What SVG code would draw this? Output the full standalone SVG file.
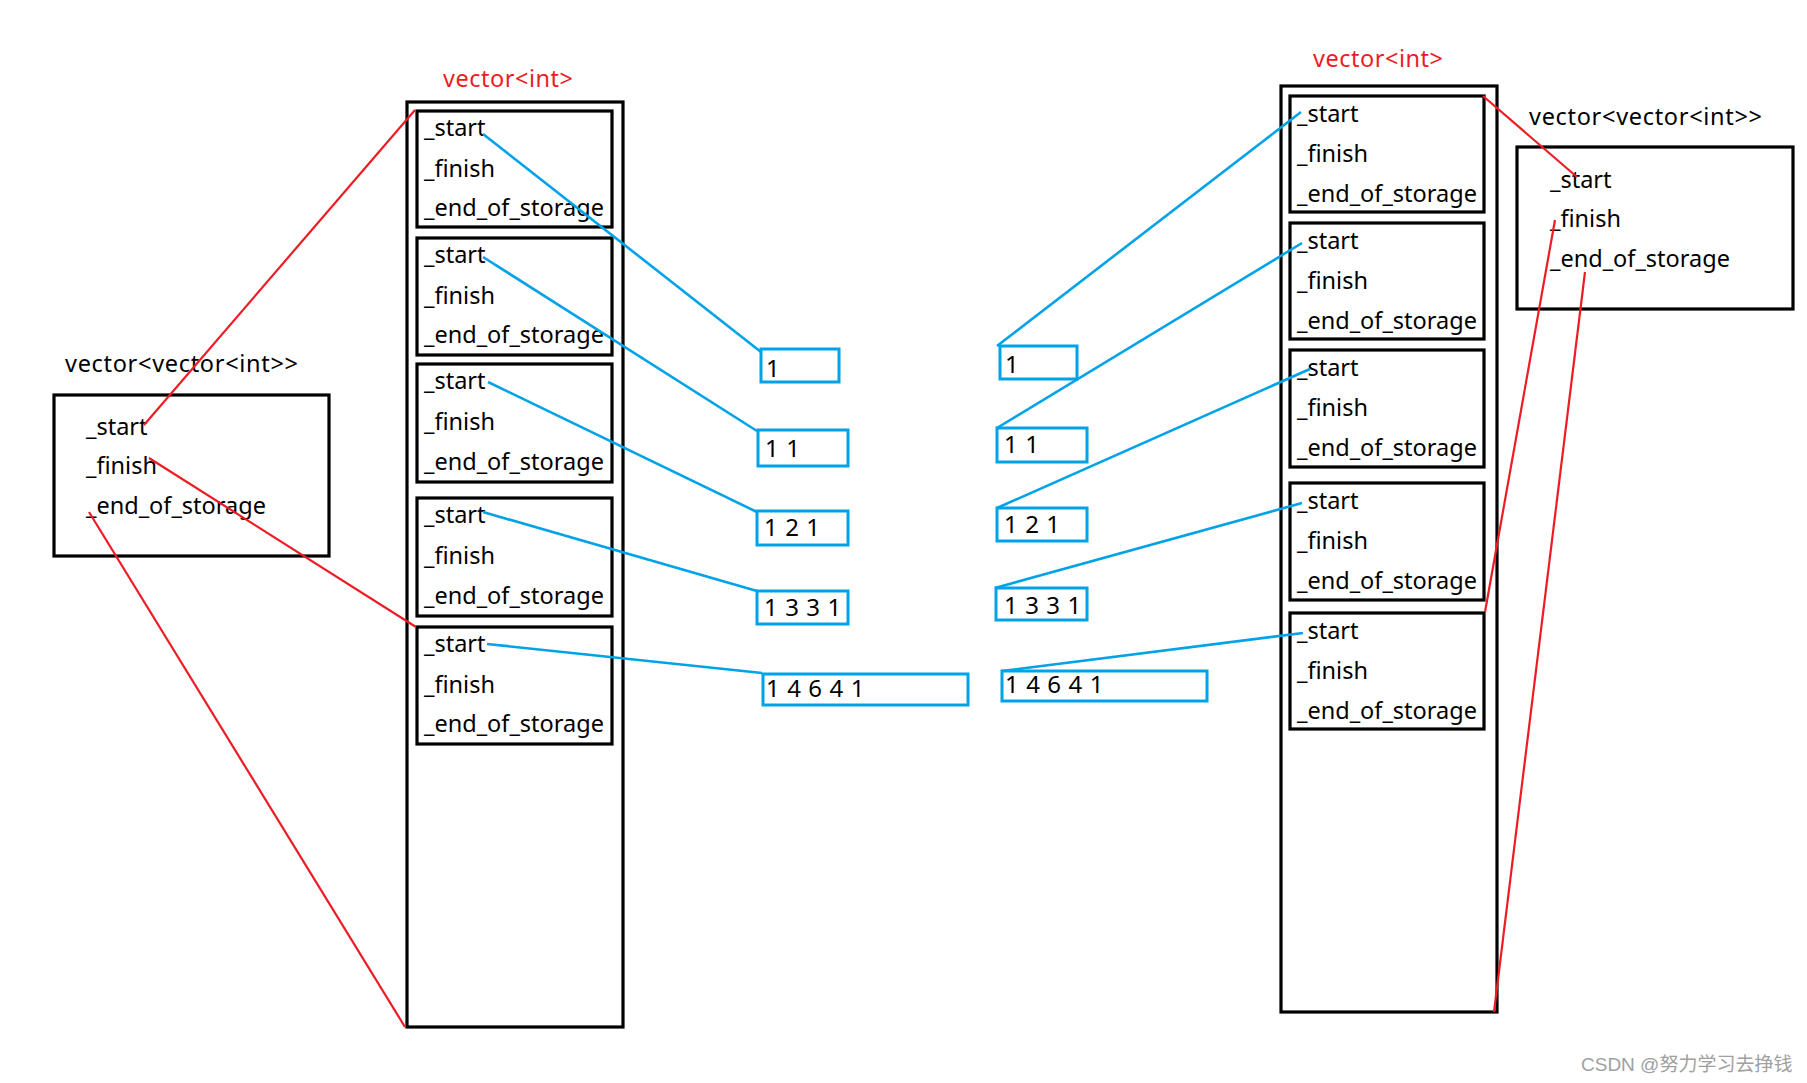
<svg xmlns="http://www.w3.org/2000/svg" width="1807" height="1083" viewBox="0 0 1807 1083">
<style>
.bk{fill:none;stroke:#000;stroke-width:3.2}
.vb{fill:none;stroke:#00A2E8;stroke-width:3}
.t{font-family:"Noto Sans","Noto Sans CJK SC",sans-serif;font-size:23.5px;fill:#000}
.rt{font-family:"Noto Sans","Noto Sans CJK SC",sans-serif;font-size:23.5px;fill:#ED1C24}
.d{font-family:"Noto Sans","Noto Sans CJK SC",sans-serif;font-size:24px;fill:#000;letter-spacing:0.6px}
.bl{stroke:#00A2E8;stroke-width:2.6;fill:none}
.rd{stroke:#ED1C24;stroke-width:2.2;fill:none}
.wm{font-family:"Liberation Sans","Noto Sans CJK SC",sans-serif;font-size:19px;fill:#a0a0a0}
</style>
<rect width="1807" height="1083" fill="#fff"/>

<g id="vv-left">
<text class="t" x="65" y="372" textLength="233" lengthAdjust="spacing">vector&lt;vector&lt;int&gt;&gt;</text>
<rect class="bk" x="54" y="395" width="275" height="161"/>
<text class="t" x="86" y="435">_start</text>
<text class="t" x="86" y="474">_finish</text>
<text class="t" x="86" y="514">_end_of_storage</text>
</g>

<g id="vec-left">
<text class="rt" x="443" y="87" textLength="130" lengthAdjust="spacing">vector&lt;int&gt;</text>
<rect class="bk" x="407" y="102" width="216" height="925"/>
<g id="vl1"><rect class="bk" x="417" y="111" width="195" height="116"/>
<text class="t" x="424" y="136">_start</text><text class="t" x="424" y="177">_finish</text><text class="t" x="424" y="216">_end_of_storage</text></g>
<g id="vl2"><rect class="bk" x="417" y="238" width="195" height="117"/>
<text class="t" x="424" y="263">_start</text><text class="t" x="424" y="304">_finish</text><text class="t" x="424" y="343">_end_of_storage</text></g>
<g id="vl3"><rect class="bk" x="417" y="364" width="195" height="118"/>
<text class="t" x="424" y="389">_start</text><text class="t" x="424" y="430">_finish</text><text class="t" x="424" y="470">_end_of_storage</text></g>
<g id="vl4"><rect class="bk" x="417" y="498" width="195" height="118"/>
<text class="t" x="424" y="523">_start</text><text class="t" x="424" y="564">_finish</text><text class="t" x="424" y="604">_end_of_storage</text></g>
<g id="vl5"><rect class="bk" x="417" y="627" width="195" height="117"/>
<text class="t" x="424" y="652">_start</text><text class="t" x="424" y="693">_finish</text><text class="t" x="424" y="732">_end_of_storage</text></g>
</g>

<g id="vals-left">
<g id="l1"><rect class="vb" x="761" y="349" width="78" height="33"/><text class="d" x="766" y="377">1</text></g>
<g id="l2"><rect class="vb" x="758" y="430" width="90" height="36"/><text class="d" x="765" y="457">1 1</text></g>
<g id="l3"><rect class="vb" x="757" y="511" width="91" height="34"/><text class="d" x="764" y="536">1 2 1</text></g>
<g id="l4"><rect class="vb" x="757" y="591" width="91" height="33"/><text class="d" x="764" y="616">1 3 3 1</text></g>
<g id="l5"><rect class="vb" x="763" y="674" width="205" height="31"/><text class="d" x="766" y="697">1 4 6 4 1</text></g>
</g>

<g id="vals-right">
<g id="r1"><rect class="vb" x="1000" y="346" width="77" height="33"/><text class="d" x="1005" y="373">1</text></g>
<g id="r2"><rect class="vb" x="997" y="428" width="90" height="34"/><text class="d" x="1004" y="453">1 1</text></g>
<g id="r3"><rect class="vb" x="997" y="508" width="90" height="33"/><text class="d" x="1004" y="533">1 2 1</text></g>
<g id="r4"><rect class="vb" x="996" y="588" width="91" height="32"/><text class="d" x="1004" y="614">1 3 3 1</text></g>
<g id="r5"><rect class="vb" x="1002" y="671" width="205" height="30"/><text class="d" x="1005" y="693">1 4 6 4 1</text></g>
</g>

<g id="vec-right">
<text class="rt" x="1313" y="67" textLength="130" lengthAdjust="spacing">vector&lt;int&gt;</text>
<rect class="bk" x="1281" y="86" width="216" height="926"/>
<g id="vr1"><rect class="bk" x="1290" y="96" width="194" height="116"/>
<text class="t" x="1297" y="122">_start</text><text class="t" x="1297" y="162">_finish</text><text class="t" x="1297" y="202">_end_of_storage</text></g>
<g id="vr2"><rect class="bk" x="1290" y="223" width="194" height="116"/>
<text class="t" x="1297" y="249">_start</text><text class="t" x="1297" y="289">_finish</text><text class="t" x="1297" y="329">_end_of_storage</text></g>
<g id="vr3"><rect class="bk" x="1290" y="350" width="194" height="117"/>
<text class="t" x="1297" y="376">_start</text><text class="t" x="1297" y="416">_finish</text><text class="t" x="1297" y="456">_end_of_storage</text></g>
<g id="vr4"><rect class="bk" x="1290" y="483" width="194" height="117"/>
<text class="t" x="1297" y="509">_start</text><text class="t" x="1297" y="549">_finish</text><text class="t" x="1297" y="589">_end_of_storage</text></g>
<g id="vr5"><rect class="bk" x="1290" y="613" width="194" height="116"/>
<text class="t" x="1297" y="639">_start</text><text class="t" x="1297" y="679">_finish</text><text class="t" x="1297" y="719">_end_of_storage</text></g>
</g>

<g id="vv-right">
<text class="t" x="1529" y="125" textLength="233" lengthAdjust="spacing">vector&lt;vector&lt;int&gt;&gt;</text>
<rect class="bk" x="1517" y="147" width="276" height="162"/>
<text class="t" x="1550" y="188">_start</text>
<text class="t" x="1550" y="227">_finish</text>
<text class="t" x="1550" y="267">_end_of_storage</text>
</g>

<g id="connectors">
<line class="bl" x1="483" y1="134" x2="761" y2="352"/>
<line class="bl" x1="483" y1="257" x2="757" y2="431"/>
<line class="bl" x1="488" y1="382" x2="757" y2="512"/>
<line class="bl" x1="483" y1="512" x2="757" y2="591"/>
<line class="bl" x1="487" y1="644" x2="762" y2="673"/>
<line class="bl" x1="1301" y1="112" x2="997" y2="346"/>
<line class="bl" x1="1302" y1="243" x2="997" y2="428"/>
<line class="bl" x1="1310" y1="369" x2="997" y2="508"/>
<line class="bl" x1="1302" y1="503" x2="995" y2="588"/>
<line class="bl" x1="1303" y1="633" x2="1002" y2="671"/>
<line class="rd" x1="144" y1="425" x2="415" y2="110"/>
<line class="rd" x1="149" y1="458" x2="416" y2="627"/>
<line class="rd" x1="89" y1="512" x2="405" y2="1027"/>
<line class="rd" x1="1483" y1="96" x2="1577" y2="177"/>
<line class="rd" x1="1555" y1="220" x2="1485" y2="612"/>
<line class="rd" x1="1585" y1="272" x2="1494" y2="1012"/>
</g>

<text class="wm" x="1581" y="1071">CSDN @努力学习去挣钱</text>
</svg>
